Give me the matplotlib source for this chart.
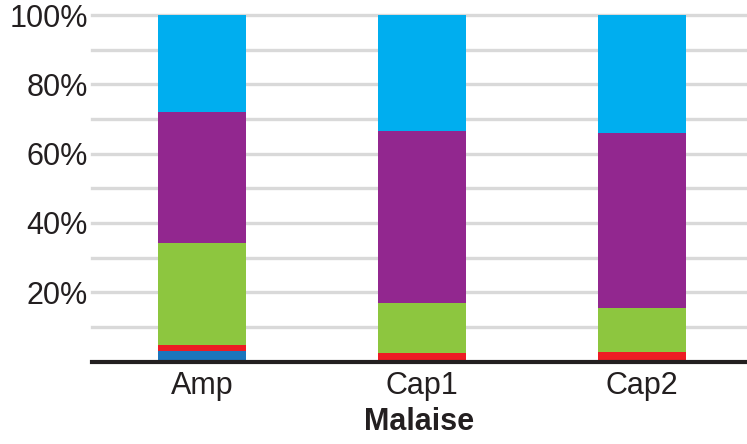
import numpy as np
import matplotlib.pyplot as plt

plt.rcParams['font.family'] = ['Liberation Sans', 'DejaVu Sans']

sites = ['Amp', 'Cap1', 'Cap2']
# stacked shares (%), bottom to top
s_blue = [3.1, 0.4, 0.0]
s_red = [1.6, 2.1, 2.6]
s_green = [29.5, 14.4, 12.8]
s_purple = [37.8, 49.6, 50.5]
s_sky = [28.0, 33.5, 34.1]
yticks = [20, 40, 60, 80, 100]
ylabels = ['20%', '40%', '60%', '80%', '100%']

series = [s_blue, s_red, s_green, s_purple, s_sky]
colors = ['#1c75bc', '#ed1c24', '#8dc63f', '#92278f', '#00aeef']

fig = plt.figure(figsize=(7.47, 4.44), dpi=100)
ax = fig.add_axes([0.1232, 0.1858, 0.8768, 0.7804])

for g in range(10, 101, 10):
    ax.axhline(g, color='#d9d9d9', linewidth=2.4, zorder=0, clip_on=False)

x = np.arange(len(sites))
bottom = np.zeros(len(sites))
for vals, c in zip(series, colors):
    ax.bar(x, vals, width=0.4, bottom=bottom, color=c, zorder=2)
    bottom += np.array(vals)

ax.set_xlim(-0.5, 2.477)
ax.set_ylim(0, 100)
for side in ['top', 'right', 'left']:
    ax.spines[side].set_visible(False)
ax.spines['bottom'].set_linewidth(3)
ax.spines['bottom'].set_color('#231f20')
ax.spines['bottom'].set_zorder(3)

ax.set_yticks(yticks)
ax.set_yticklabels(ylabels)
ax.set_xticks(x)
ax.set_xticklabels(sites)
ax.tick_params(axis='y', length=0, pad=3, labelsize=22, labelcolor='#231f20')
ax.tick_params(axis='x', length=0, pad=7, labelsize=22, labelcolor='#231f20')
ax.set_xlabel('Malaise', fontsize=22, fontweight='bold', labelpad=4, color='#231f20')

fig.savefig('out.png', dpi=100)
